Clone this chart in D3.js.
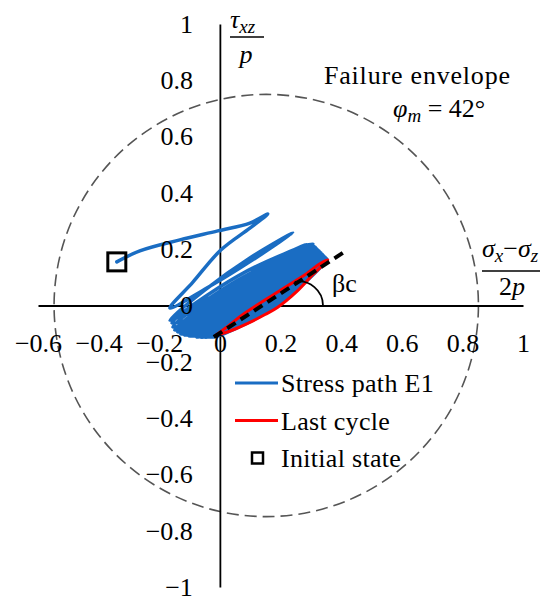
<!DOCTYPE html>
<meta charset="utf-8">
<style>
body { margin: 0; background: #fff; }
svg { display: block; }
svg text, .tick text { font-family: "Liberation Serif", "Times New Roman", serif; fill: #000; }
.tick text { font-size: 26px; }
.axis .domain { stroke: #000; stroke-width: 1.8px; }
.labels .domain { display: none; }
.label { font-size: 26px; }
.it { font-style: italic; }
</style>
<body>
<svg width="540" height="596"></svg>
<script src="https://d3js.org/d3.v7.min.js"></script>
<script>

// tick labels
var xTicks = [-0.6, -0.4, -0.2, 0, 0.2, 0.4, 0.6, 0.8, 1];
var yTicks = [-1, -0.8, -0.6, -0.4, -0.2, 0, 0.2, 0.4, 0.6, 0.8, 1];

// failure envelope (phi_m = 42 deg)
var envelopeCentre = [0.153, 0];
var envelopeRadius = [0.70, 0.75];

var initialState = [-0.340, 0.155];

// stress path E1 : first cycles
var pathStart = [
  [-0.340, 0.155], [-0.264, 0.194], [-0.132, 0.233], [-0.007, 0.265], [0.099, 0.293], [0.158, 0.325],
  [0.099, 0.275], [0.003, 0.197], [-0.089, 0.083], [-0.165, -0.009],
  [-0.043, 0.062], [0.066, 0.133], [0.241, 0.258],
  [0.099, 0.169], [-0.050, 0.055], [-0.165, -0.052],
  [-0.017, 0.027], [0.132, 0.112], [0.284, 0.218],
  [0.132, 0.133], [-0.033, 0.027]
];

// stress path E1 : dense cycles (lower tip, loading mid, upper tip, unloading mid)
var pathCycles = [
  [-0.158, -0.044], [0.091, 0.052], [0.307, 0.218], [0.061, 0.106],
  [-0.158, -0.062], [0.092, 0.037], [0.310, 0.211], [0.063, 0.092],
  [-0.155, -0.076], [0.096, 0.027], [0.314, 0.208], [0.066, 0.080],
  [-0.149, -0.087], [0.101, 0.018], [0.317, 0.204], [0.071, 0.073],
  [-0.139, -0.094], [0.107, 0.012], [0.320, 0.201], [0.078, 0.067],
  [-0.129, -0.101], [0.114, 0.005], [0.323, 0.197], [0.084, 0.062],
  [-0.116, -0.105], [0.122, 0.000], [0.327, 0.194], [0.092, 0.059],
  [-0.102, -0.108], [0.130, -0.004], [0.330, 0.190], [0.101, 0.055],
  [-0.089, -0.108], [0.139, -0.007], [0.333, 0.187], [0.109, 0.053],
  [-0.076, -0.112], [0.147, -0.011], [0.337, 0.183], [0.117, 0.050],
  [-0.063, -0.112], [0.155, -0.014], [0.340, 0.179], [0.125, 0.048],
  [-0.050, -0.112], [0.163, -0.016], [0.343, 0.176], [0.134, 0.046],
  [-0.040, -0.112], [0.170, -0.012], [0.347, 0.172], [0.140, 0.044],
  [-0.030, -0.112], [0.177, -0.009], [0.350, 0.169], [0.147, 0.043],
  [-0.023, -0.112], [0.182, -0.005], [0.353, 0.165], [0.152, 0.041],
  [-0.017, -0.108]
];

// last cycle
var lastCycle = [
  [-0.017, -0.108], [0.040, -0.088], [0.099, -0.060], [0.149, -0.032], [0.191, -0.006],
  [0.254, 0.050], [0.307, 0.110], [0.356, 0.162],
  [0.330, 0.148], [0.287, 0.114], [0.188, 0.046], [0.076, -0.032], [0.026, -0.074], [-0.017, -0.108]
];

// beta_c direction line
var betaLine = [[-0.020, -0.112], [0.420, 0.197]];
var betaArcCentre = [0.261, 0];

var svg = d3.select("svg");

var x = d3.scaleLinear().domain([-0.6, 1]).range([38, 523]);
var y = d3.scaleLinear().domain([-1, 1]).range([587, 24]);

var fmt = function(d) { return d < 0 ? "\u2212" + Math.abs(d) : String(d); };

// envelope
svg.append("ellipse")
    .attr("cx", x(envelopeCentre[0]))
    .attr("cy", y(envelopeCentre[1]))
    .attr("rx", x(envelopeCentre[0] + envelopeRadius[0]) - x(envelopeCentre[0]))
    .attr("ry", y(0) - y(envelopeRadius[1]))
    .attr("fill", "none")
    .attr("stroke", "#555")
    .attr("stroke-width", 1.6)
    .attr("stroke-dasharray", "12,6");

// axis lines (labels are drawn later, over the paths)
svg.append("g")
    .attr("class", "axis")
    .attr("transform", "translate(0," + y(0) + ")")
    .call(d3.axisBottom(x).tickValues([]).tickSize(0).tickSizeOuter(0));

svg.append("g")
    .attr("class", "axis")
    .attr("transform", "translate(" + x(0) + ",0)")
    .call(d3.axisLeft(y).tickValues([]).tickSize(0).tickSizeOuter(0));

var line = d3.line()
    .x(function(d) { return x(d[0]); })
    .y(function(d) { return y(d[1]); })
    .curve(d3.curveCatmullRom.alpha(0.5));

svg.append("path")
    .attr("d", line(pathStart.concat(pathCycles)))
    .attr("fill", "none")
    .attr("stroke", "#1a6dc3")
    .attr("stroke-width", 3.5)
    .attr("stroke-linejoin", "round")
    .attr("stroke-linecap", "round");

svg.append("path")
    .attr("d", line(lastCycle))
    .attr("fill", "none")
    .attr("stroke", "#ff0000")
    .attr("stroke-width", 3)
    .attr("stroke-linejoin", "round");

svg.append("path")
    .attr("d", d3.line().x(function(d) { return x(d[0]); }).y(function(d) { return y(d[1]); })(betaLine))
    .attr("stroke", "#000")
    .attr("stroke-width", 4)
    .attr("stroke-dasharray", "10,6");

// tick labels on top
svg.append("g")
    .attr("class", "labels")
    .attr("transform", "translate(0," + y(0) + ")")
    .call(d3.axisBottom(x).tickValues(xTicks).tickSize(0).tickSizeOuter(0).tickPadding(28).tickFormat(fmt));

svg.append("g")
    .attr("class", "labels")
    .attr("transform", "translate(" + x(0) + ",0)")
    .call(d3.axisLeft(y).tickValues(yTicks).tickSize(0).tickSizeOuter(0).tickPadding(27).tickFormat(fmt));

// angle arc
var arc = d3.path();
var ax = x(betaArcCentre[0]), ay = y(betaArcCentre[1]), ar = 24;
arc.moveTo(ax + ar * Math.cos(-1.75), ay + ar * Math.sin(-1.75));
arc.arc(ax, ay, ar, -1.75, 0, false);
svg.append("path")
    .attr("d", arc.toString())
    .attr("fill", "none")
    .attr("stroke", "#000")
    .attr("stroke-width", 1.8);

svg.append("text").attr("class", "label").attr("x", 332).attr("y", 292).text("\u03b2c");

// initial state marker
svg.append("rect")
    .attr("x", x(initialState[0]) - 9)
    .attr("y", y(initialState[1]) - 9)
    .attr("width", 18).attr("height", 18)
    .attr("fill", "none")
    .attr("stroke", "#000")
    .attr("stroke-width", 3);

// axis titles
var t1 = svg.append("text").attr("class", "label").attr("x", 230).attr("y", 28);
t1.append("tspan").attr("class", "it").text("\u03c4");
t1.append("tspan").attr("class", "it").attr("font-size", 19).attr("dy", 5).text("xz");
svg.append("line").attr("x1", 230).attr("x2", 264).attr("y1", 37).attr("y2", 37)
    .attr("stroke", "#000").attr("stroke-width", 1.5);
svg.append("text").attr("class", "label it").attr("x", 246).attr("y", 63)
    .attr("text-anchor", "middle").text("p");

var t2 = svg.append("text").attr("class", "label").attr("x", 482).attr("y", 257);
t2.append("tspan").attr("class", "it").text("\u03c3");
t2.append("tspan").attr("class", "it").attr("font-size", 19).attr("dy", 5).text("x");
t2.append("tspan").attr("dy", -5).text("\u2212");
t2.append("tspan").attr("class", "it").text("\u03c3");
t2.append("tspan").attr("class", "it").attr("font-size", 19).attr("dy", 5).text("z");
svg.append("line").attr("x1", 482).attr("x2", 560).attr("y1", 271).attr("y2", 271)
    .attr("stroke", "#000").attr("stroke-width", 1.5);
var t3 = svg.append("text").attr("class", "label").attr("x", 512).attr("y", 295).attr("text-anchor", "middle");
t3.append("tspan").text("2");
t3.append("tspan").attr("class", "it").text("p");

// envelope annotation
svg.append("text").attr("class", "label").attr("x", 324).attr("y", 84)
    .attr("letter-spacing", 0.8).text("Failure envelope");
var t4 = svg.append("text").attr("class", "label").attr("x", 393).attr("y", 117);
t4.append("tspan").attr("class", "it").text("\u03c6");
t4.append("tspan").attr("class", "it").attr("font-size", 19).attr("dy", 5).text("m");
t4.append("tspan").attr("dy", -5).text(" = 42\u00b0");

// legend
var legend = [
  { name: "Stress path E1", color: "#1a6dc3", type: "line" },
  { name: "Last cycle", color: "#ff0000", type: "line" },
  { name: "Initial state", color: "#000", type: "square" }
];
var lg = svg.append("g").selectAll("g").data(legend).enter().append("g")
    .attr("transform", function(d, i) { return "translate(235," + (383 + i * 37.5) + ")"; });
lg.filter(function(d) { return d.type === "line"; }).append("line")
    .attr("x1", 0).attr("x2", 43).attr("y1", 0).attr("y2", 0)
    .attr("stroke", function(d) { return d.color; }).attr("stroke-width", 3);
lg.filter(function(d) { return d.type === "square"; }).append("rect")
    .attr("x", 17).attr("y", -5.5).attr("width", 11).attr("height", 11)
    .attr("fill", "none").attr("stroke", "#000").attr("stroke-width", 2.5);
lg.append("text").attr("class", "label").attr("x", 46).attr("y", 9)
    .attr("letter-spacing", 0.3).text(function(d) { return d.name; });

</script>
</body>
